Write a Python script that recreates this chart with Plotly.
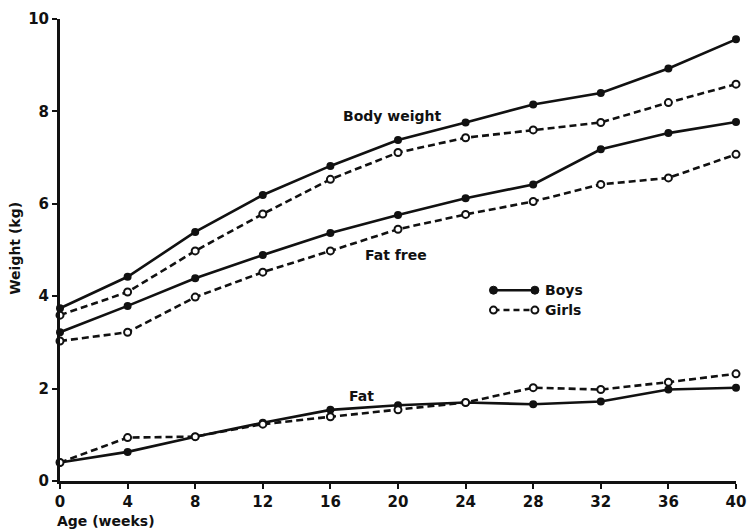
import plotly.graph_objects as go

weeks = [0, 4, 8, 12, 16, 20, 24, 28, 32, 36, 40]
boys_body = [3.74, 4.42, 5.39, 6.19, 6.82, 7.38, 7.76, 8.15, 8.40, 8.93, 9.56]
girls_body = [3.59, 4.09, 4.98, 5.78, 6.53, 7.11, 7.43, 7.60, 7.76, 8.19, 8.59]
boys_fatfree = [3.22, 3.79, 4.39, 4.89, 5.37, 5.76, 6.12, 6.42, 7.18, 7.53, 7.77]
girls_fatfree = [3.03, 3.22, 3.98, 4.52, 4.98, 5.45, 5.77, 6.05, 6.42, 6.56, 7.07]
boys_fat = [0.40, 0.63, 0.96, 1.26, 1.54, 1.64, 1.70, 1.66, 1.72, 1.98, 2.02]
girls_fat = [0.40, 0.94, 0.96, 1.23, 1.39, 1.54, 1.70, 2.02, 1.98, 2.14, 2.32]

x_ticks = [0, 4, 8, 12, 16, 20, 24, 28, 32, 36, 40]
y_ticks = [0, 2, 4, 6, 8, 10]

FONT = "DejaVu Sans"
INK = "#111111"

fig = go.Figure()

def boys(y):
    fig.add_trace(go.Scatter(
        x=weeks, y=y, mode="lines+markers", cliponaxis=False,
        line=dict(color=INK, width=2.6),
        marker=dict(symbol="circle", size=8, color=INK),
        showlegend=False))

def girls(y):
    fig.add_trace(go.Scatter(
        x=weeks, y=y, mode="lines+markers", cliponaxis=False,
        line=dict(color=INK, width=2.6, dash="7px,4px"),
        marker=dict(symbol="circle", size=7, color="white",
                    line=dict(color=INK, width=2)),
        showlegend=False))

boys(boys_body); girls(girls_body)
boys(boys_fatfree); girls(girls_fatfree)
boys(boys_fat); girls(girls_fat)

# legend drawn as shapes
lx0, lx1 = 25.65, 28.1
yb, yg = 4.13, 3.70
fig.add_shape(type="line", x0=lx0, x1=lx1, y0=yb, y1=yb, xref="x", yref="y",
              line=dict(color=INK, width=2.6))
fig.add_shape(type="line", x0=lx0, x1=lx1, y0=yg, y1=yg, xref="x", yref="y",
              line=dict(color=INK, width=2.6, dash="6px,4px"))
for xx in (lx0, lx1):
    fig.add_shape(type="circle", xref="x", yref="y", xsizemode="pixel", ysizemode="pixel",
                  xanchor=xx, yanchor=yb, x0=-4, x1=4, y0=-4, y1=4,
                  fillcolor=INK, line=dict(color=INK, width=1))
    fig.add_shape(type="circle", xref="x", yref="y", xsizemode="pixel", ysizemode="pixel",
                  xanchor=xx, yanchor=yg, x0=-3.5, x1=3.5, y0=-3.5, y1=3.5,
                  fillcolor="white", line=dict(color=INK, width=2))

ann_font = dict(family=FONT, size=14, color=INK)
fig.add_annotation(x=28.6, y=yb, text="<b>Boys</b>", showarrow=False, xanchor="left", font=ann_font)
fig.add_annotation(x=28.6, y=yg, text="<b>Girls</b>", showarrow=False, xanchor="left", font=ann_font)
fig.add_annotation(x=16.6, y=7.9, text="<b>Body weight</b>", showarrow=False, xanchor="left", font=ann_font)
fig.add_annotation(x=17.9, y=4.9, text="<b>Fat free</b>", showarrow=False, xanchor="left", font=ann_font)
fig.add_annotation(x=17.0, y=1.85, text="<b>Fat</b>", showarrow=False, xanchor="left", font=ann_font)
fig.add_annotation(xref="paper", yref="paper", x=-0.008, y=-0.087, text="<b>Age (weeks)</b>",
                   showarrow=False, xanchor="left", yanchor="middle", font=ann_font)
fig.add_annotation(xref="paper", yref="paper", x=-0.067, y=0.504, text="<b>Weight (kg)</b>",
                   textangle=-90, showarrow=False, xanchor="center", yanchor="middle", font=ann_font)

fig.update_layout(
    width=753, height=529,
    margin=dict(l=60, r=17, t=19, b=48),
    paper_bgcolor="white", plot_bgcolor="white",
    font=dict(family=FONT, size=15, color=INK),
    xaxis=dict(range=[0, 40], tickvals=x_ticks, ticktext=[f"<b>{v}</b>" for v in x_ticks],
               automargin=False,
               showgrid=False, zeroline=False, showline=True, linewidth=3, linecolor=INK,
               ticks="outside", ticklen=5, tickwidth=2, tickcolor=INK,
               tickfont=dict(family=FONT, size=15, color=INK)),
    yaxis=dict(range=[0, 10], tickvals=y_ticks, ticktext=[f"<b>{v}</b>" for v in y_ticks],
               automargin=False,
               showgrid=False, zeroline=False, showline=True, linewidth=3, linecolor=INK,
               ticks="outside", ticklen=5, tickwidth=2, tickcolor=INK,
               tickfont=dict(family=FONT, size=15, color=INK)),
)

fig.write_html("out.html", config={"displayModeBar": False},
               post_script="document.body.style.margin='0';document.body.style.overflow='hidden';")
